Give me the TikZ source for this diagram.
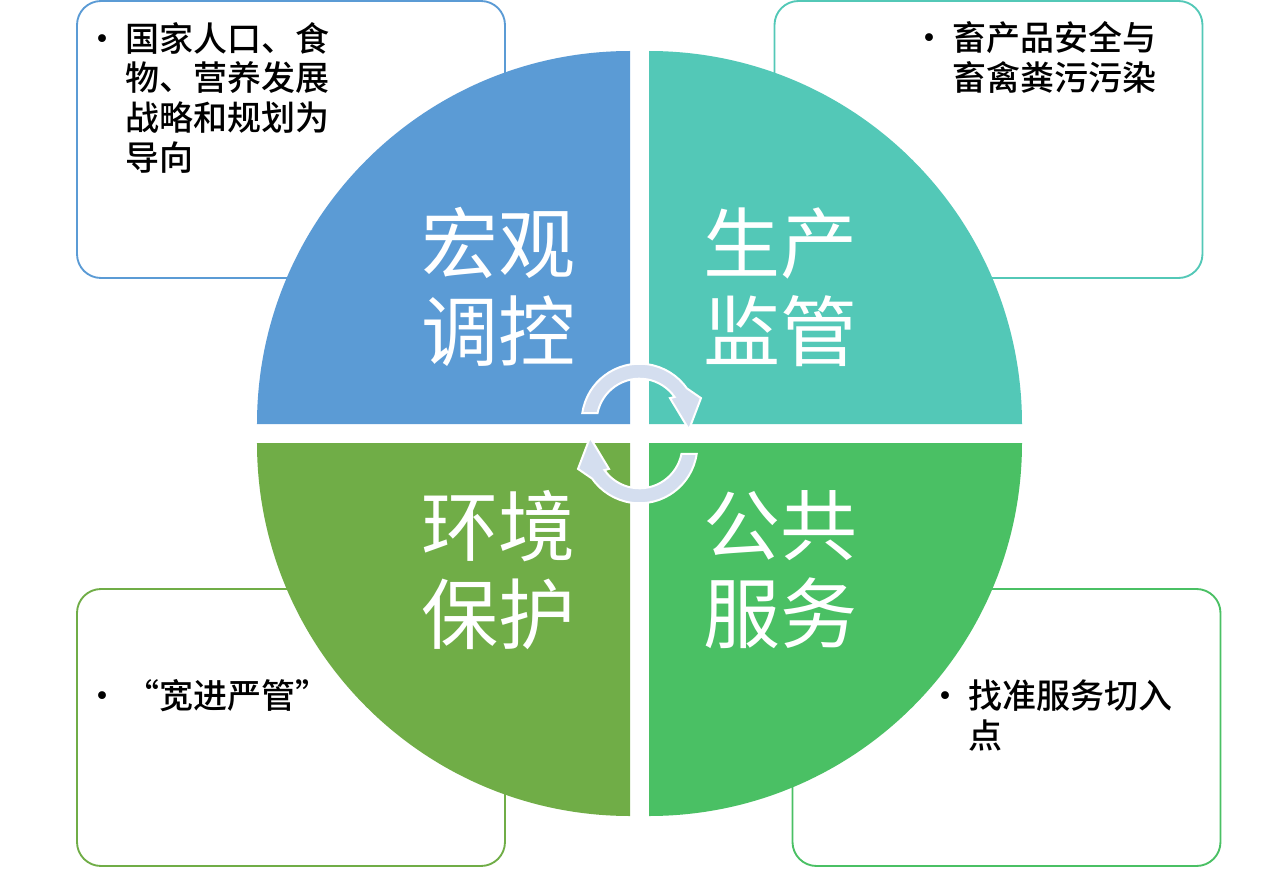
\documentclass[tikz,border=0pt]{standalone}
\usepackage{fontspec}
\setmainfont{Noto Sans CJK SC}
\newfontfamily\notefont{Noto Sans CJK SC Medium}
\definecolor{macroblue}{HTML}{5B9BD5}
\definecolor{prodteal}{HTML}{53C8B7}
\definecolor{envgreen}{HTML}{70AD47}
\definecolor{servgreen}{HTML}{4AC064}
\definecolor{turnfill}{HTML}{D4DEEF}
\newcommand\itemdot{\llap{•\hspace{4.5pt}}}
\begin{document}
\begin{tikzpicture}[x=0.75pt,y=0.75pt,
infobox/.style={draw=#1,line width=1.4pt,rounded corners=18pt,fill=white,minimum width=321pt,minimum height=207.75pt,inner sep=0pt},
title/.style={text=white,align=center,inner sep=0pt,font=\fontsize{57.75pt}{66pt}\selectfont},
note/.style={align=left,anchor=base west,inner sep=0pt,font=\fontsize{25.5pt}{30pt}\selectfont\notefont},
turn/.style={fill=turnfill,draw=white,line width=1.5pt}]
\useasboundingbox (-639.5,-434.5) rectangle (640.5,433.5);
% side boxes, behind the disc
\node[infobox=macroblue] (macrobox) at (-348.5,294) {};
\node[infobox=prodteal] (prodbox) at (349,294) {};
\node[infobox=envgreen] (envbox) at (-348.5,-294) {};
\node[infobox=servgreen] (servbox) at (367,-294) {};
% four quarters
\fill[macroblue] (-9.5,9.5) -- ++(-373,0) arc[start angle=180,end angle=90,radius=373] -- cycle;
\fill[prodteal] (9.5,9.5) -- ++(0,373) arc[start angle=90,end angle=0,radius=373] -- cycle;
\fill[envgreen] (-9.5,-9.5) -- ++(-373,0) arc[start angle=180,end angle=270,radius=373] -- cycle;
\fill[servgreen] (9.5,-9.5) -- ++(373,0) arc[start angle=0,end angle=-90,radius=373] -- cycle;
\node[title] (macro) at (-140.5,146.5) {宏观\\调控};
\node[title] (prod) at (140.5,146.5) {生产\\监管};
\node[title] (env) at (-140.5,-136.5) {环境\\保护};
\node[title] (serv) at (140.5,-136.5) {公共\\服务};
% turning arrows in the middle
\foreach \dy/\rot in {12/0,-12/180}{
\begin{scope}[shift={(0,\dy)},rotate=\rot]
\path[turn] (171.6:57.8) arc[start angle=171.6,end angle=35,radius=57.8]
  -- (61.5,23.4) -- (49.5,-8.1) -- (30.5,23.4) -- (35:42.8)
  arc[start angle=35,end angle=168.7,radius=42.8] -- cycle;
\end{scope}
}
% box texts (base = last line)
\node[note] (macronote) at (-514.5,262.5) {\itemdot 国家人口、食\\物、营养发展\\战略和规划为\\导向};
\node[note] (prodnote) at (312.5,342.5) {\itemdot 畜产品安全与\\畜禽粪污污染};
\node[note] (envnote) at (-514.5,-274.5) {\itemdot\addfontfeatures{RawFeature=+fwid}“宽进严管”};
\node[note] (servnote) at (328.5,-314.5) {\itemdot 找准服务切入\\点};
\end{tikzpicture}
\end{document}
